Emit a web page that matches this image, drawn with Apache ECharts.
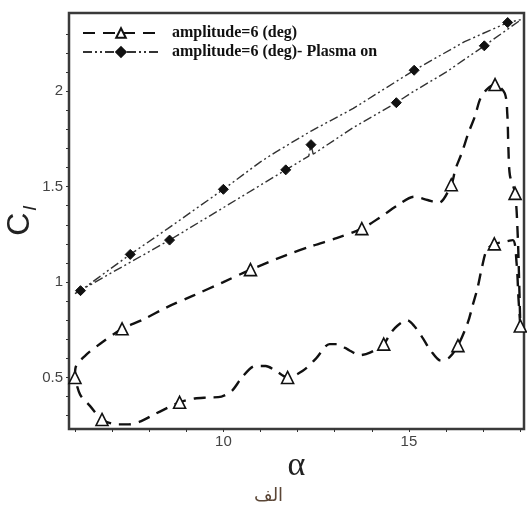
<!DOCTYPE html>
<html>
<head>
<meta charset="utf-8">
<script src="https://cdn.jsdelivr.net/npm/echarts@6/dist/echarts.min.js"></script>
<style>html,body{margin:0;padding:0;background:#fff;}#c{width:527px;height:506px;}</style>
</head>
<body>
<div id="c"></div>
<script>
// ---- data ----
const seriesNames = ['amplitude=6 (deg)', 'amplitude=6 (deg)- Plasma on'];

const baseAlpha = [6.0, 6.02, 6.28, 6.69, 7.27, 7.8, 8.5, 9.2, 10.0, 10.73, 11.68, 12.4, 13.05, 13.73, 14.23, 14.68, 15.14, 15.5, 15.8, 16.14, 16.25, 16.42, 16.6, 16.78, 16.92, 17.1, 17.32, 17.58, 17.65, 17.68, 17.72, 17.86, 17.93, 17.97, 18.0, 17.95, 17.9, 17.8, 17.55, 17.3, 17.1, 16.97, 16.85, 16.72, 16.59, 16.32, 16.09, 15.86, 15.59, 15.36, 15.14, 14.95, 14.68, 14.5, 14.32, 13.95, 13.68, 13.41, 13.05, 12.86, 12.5, 12.14, 11.73, 11.41, 11.14, 10.86, 10.5, 10.23, 9.95, 9.59, 9.23, 8.82, 8.5, 8.14, 7.77, 7.45, 7.14, 6.73, 6.41, 6.14, 6.0];
const baseCl = [0.5, 0.554, 0.615, 0.678, 0.755, 0.8, 0.87, 0.93, 1.0, 1.065, 1.14, 1.19, 1.23, 1.28, 1.34, 1.4, 1.447, 1.43, 1.415, 1.51, 1.59, 1.675, 1.78, 1.87, 1.96, 2.01, 2.035, 1.99, 1.88, 1.7, 1.56, 1.465, 1.25, 1.0, 0.77, 0.92, 1.1, 1.22, 1.21, 1.2, 1.17, 1.08, 0.97, 0.88, 0.79, 0.667, 0.605, 0.588, 0.64, 0.71, 0.77, 0.8, 0.77, 0.73, 0.675, 0.63, 0.617, 0.64, 0.675, 0.675, 0.6, 0.535, 0.5, 0.535, 0.56, 0.56, 0.5, 0.43, 0.4, 0.395, 0.39, 0.37, 0.342, 0.307, 0.27, 0.254, 0.254, 0.28, 0.35, 0.41, 0.5];
const baseMarkIdx = [0, 4, 9, 13, 19, 26, 31, 34, 39, 45, 54, 62, 71, 77];

const plasmaAlpha = [6.0, 6.15, 7.49, 8.5, 10.0, 11.0, 11.4, 12.35, 13.5, 15.14, 16.5, 17.66, 18.02, 17.03, 16.0, 15.05, 14.66, 13.5, 12.42, 12.36, 12.3, 11.68, 10.0, 8.55, 7.0, 6.0];
const plasmaCl = [0.94, 0.955, 1.145, 1.28, 1.486, 1.63, 1.68, 1.79, 1.91, 2.11, 2.26, 2.36, 2.375, 2.238, 2.1, 1.99, 1.94, 1.81, 1.67, 1.72, 1.66, 1.588, 1.39, 1.22, 1.05, 0.94];
const plasmaMarkIdx = [1, 2, 4, 9, 11, 13, 16, 19, 21, 23];

const xTicks = [6, 7, 8, 9, 10, 11, 12, 13, 14, 15, 16, 17, 18];
const xLabels = [10, 15];
const yTicks = [0.3, 0.4, 0.5, 0.6, 0.7, 0.8, 0.9, 1.0, 1.1, 1.2, 1.3, 1.4, 1.5, 1.6, 1.7, 1.8, 1.9, 2.0, 2.1, 2.2, 2.3];
const yLabels = [0.5, 1, 1.5, 2];

function build(xs, ys, marks) {
  return xs.map((x, i) => marks.includes(i) ? { value: [x, ys[i]] } : { value: [x, ys[i]], symbol: 'none' });
}

const chart = echarts.init(document.getElementById('c'), null, { renderer: 'canvas' });
chart.setOption({
  animation: false,
  backgroundColor: '#fff',
  grid: { left: 69, right: 3, top: 13, bottom: 77, containLabel: false, outerBoundsMode: 'none',
          show: true, borderColor: '#3a3a3a', borderWidth: 2.5, backgroundColor: 'transparent' },
  legend: {
    orient: 'vertical', left: 77, top: 20, itemWidth: 76, itemHeight: 12, itemGap: 3,
    textStyle: { fontFamily: 'Liberation Serif', fontWeight: 'bold', fontSize: 16, color: '#111', padding: [0, 0, 0, 8] },
    data: seriesNames
  },
  xAxis: {
    type: 'value', min: 5.84, max: 18.1,
    name: 'α', nameLocation: 'middle', nameGap: 20, nameMoveOverlap: false,
    nameTextStyle: { fontFamily: 'Liberation Serif', fontSize: 34, color: '#222' },
    axisLine: { show: false },
    axisTick: { show: true, inside: false, length: 3, customValues: xTicks, lineStyle: { color: '#333', width: 1 } },
    axisLabel: { customValues: xLabels, margin: 5, fontFamily: 'Liberation Sans', fontSize: 15, color: '#444' },
    splitLine: { show: false }
  },
  yAxis: {
    type: 'value', min: 0.23, max: 2.41,
    name: '{c|C}{l|l}', nameLocation: 'middle', nameGap: 33, nameRotate: 90, nameMoveOverlap: false,
    nameTextStyle: { rich: {
      c: { fontFamily: 'Liberation Sans', fontSize: 32, color: '#222', verticalAlign: 'bottom' },
      l: { fontFamily: 'Liberation Sans', fontStyle: 'italic', fontSize: 19, color: '#222', verticalAlign: 'bottom', padding: [0, 0, -4, 2] }
    } },
    axisLine: { show: false },
    axisTick: { show: true, inside: false, length: 3, customValues: yTicks, lineStyle: { color: '#333', width: 1 } },
    axisLabel: { customValues: yLabels, margin: 6, fontFamily: 'Liberation Sans', fontSize: 15, color: '#444' },
    splitLine: { show: false }
  },
  graphic: [{
    type: 'text', left: 254, top: 487,
    style: { text: 'الف', fontFamily: 'DejaVu Sans', fontSize: 18, fill: '#5b4636' }
  }],
  series: [
    {
      name: seriesNames[0], type: 'line', smooth: 0.3,
      symbol: 'triangle', symbolSize: 12, showAllSymbol: true,
      itemStyle: { color: '#fff', borderColor: '#111', borderWidth: 1.6 },
      lineStyle: { color: '#111', width: 2.4, type: [12, 8] },
      data: build(baseAlpha, baseCl, baseMarkIdx), z: 3
    },
    {
      name: seriesNames[1], type: 'line', smooth: false,
      symbol: 'diamond', symbolSize: 10, showAllSymbol: true,
      itemStyle: { color: '#111', borderColor: '#111', borderWidth: 1 },
      lineStyle: { color: '#333', width: 1.4, type: [9, 3, 2, 3, 2, 3] },
      data: build(plasmaAlpha, plasmaCl, plasmaMarkIdx), z: 4
    }
  ]
});
</script>
</body>
</html>
